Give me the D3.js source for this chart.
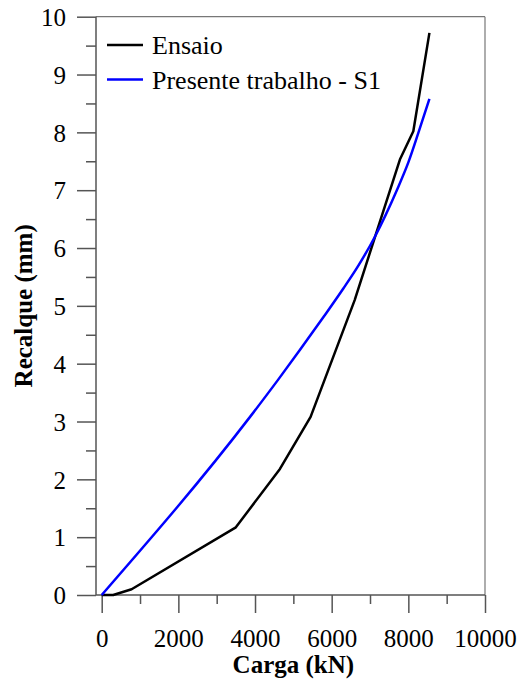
<!DOCTYPE html>
<html lang="pt">
<head>
    <meta charset="UTF-8">
    <script src="https://d3js.org/d3.v7.min.js"></script>
    <title>Carga x Recalque</title>
    <style>
        body { margin: 0; background: #fff; }
    </style>
</head>
<body>
    <script>
        // dados
        const ensaioCarga   = [0, 300, 780, 3500, 4650, 5450, 6600, 7780, 8130, 8550];
        const ensaioRecalque = [0, 0, 0.1, 1.17, 2.18, 3.08, 5.1, 7.53, 8.02, 9.72];
        const s1Carga    = [0, 3870, 4600, 5174, 5800, 6304, 6700, 7131, 7400, 7700, 8000, 8261, 8550];
        const s1Recalque = [0, 3.08, 3.72, 4.24, 4.82, 5.3, 5.7, 6.2, 6.56, 7.0, 7.48, 7.99, 8.58];
        const xTicks = [0, 2000, 4000, 6000, 8000, 10000];
        const yTicks = [0, 1, 2, 3, 4, 5, 6, 7, 8, 9, 10];
        const legendLabels = ['Ensaio', 'Presente trabalho - S1'];
        const seriesColors = ['#000', '#0000ff'];

        const width = 519, height = 682;
        const axisX = 96, axisY = 595, plotTop = 16.7, plotRight = 485;
        const serif = '"Liberation Serif", Tinos, "Times New Roman", Times, "Nimbus Roman", "Noto Serif", FreeSerif, "DejaVu Serif", serif';

        const x = d3.scaleLinear().domain([0, 10000]).range([101.7, plotRight]);
        const y = d3.scaleLinear().domain([0, 10]).range([axisY, plotTop]);

        const svg = d3.select('body').append('svg')
            .attr('width', width)
            .attr('height', height)
            .style('font-family', serif);

        const axisColor = '#555';

        // eixo y
        const yAxis = svg.append('g')
            .attr('transform', `translate(${axisX},0)`)
            .call(d3.axisLeft(y).tickValues(yTicks).tickSize(19).tickPadding(11).tickFormat(d3.format('d')));
        const yMinor = svg.append('g')
            .attr('transform', `translate(${axisX},0)`)
            .call(d3.axisLeft(y).tickValues(d3.range(0.5, 10, 1)).tickSize(10).tickFormat(''));

        // eixo x
        const xAxis = svg.append('g')
            .attr('transform', `translate(0,${axisY})`)
            .call(d3.axisBottom(x).tickValues(xTicks).tickSize(18).tickPadding(0).tickFormat(d3.format('d')));
        const xMinor = svg.append('g')
            .attr('transform', `translate(0,${axisY})`)
            .call(d3.axisBottom(x).tickValues(d3.range(1000, 10000, 2000)).tickSize(9).tickFormat(''));

        [yAxis, yMinor, xAxis, xMinor].forEach(g => {
            g.attr('font-family', serif).attr('font-size', 25);
            g.select('.domain').remove();
            g.selectAll('line').attr('stroke', axisColor).attr('stroke-width', 1.5);
            g.selectAll('text').attr('fill', '#000');
        });
        yAxis.selectAll('text').attr('dy', '0.35em');
        xAxis.selectAll('text').attr('dy', 0).attr('y', 52);

        // moldura
        svg.append('line').attr('x1', axisX).attr('x2', plotRight).attr('y1', plotTop).attr('y2', plotTop)
            .attr('stroke', '#777').attr('stroke-width', 1.2);
        svg.append('line').attr('x1', plotRight).attr('x2', plotRight).attr('y1', plotTop).attr('y2', axisY)
            .attr('stroke', '#777').attr('stroke-width', 1.2);
        svg.append('line').attr('x1', axisX).attr('x2', axisX).attr('y1', plotTop).attr('y2', axisY)
            .attr('stroke', axisColor).attr('stroke-width', 1.5);
        svg.append('line').attr('x1', axisX).attr('x2', plotRight).attr('y1', axisY).attr('y2', axisY)
            .attr('stroke', axisColor).attr('stroke-width', 1.5);

        // curvas
        const ensaio = ensaioCarga.map((c, i) => [c, ensaioRecalque[i]]);
        const s1 = s1Carga.map((c, i) => [c, s1Recalque[i]]);

        svg.append('path')
            .datum(ensaio)
            .attr('fill', 'none')
            .attr('stroke', seriesColors[0])
            .attr('stroke-width', 2.5)
            .attr('stroke-linejoin', 'round')
            .attr('d', d3.line().x(d => x(d[0])).y(d => y(d[1])));

        svg.append('path')
            .datum(s1)
            .attr('fill', 'none')
            .attr('stroke', seriesColors[1])
            .attr('stroke-width', 2.5)
            .attr('d', d3.line().x(d => x(d[0])).y(d => y(d[1])).curve(d3.curveMonotoneX));

        // legenda
        const legend = svg.append('g');
        legendLabels.forEach((label, i) => {
            const ly = 45 + i * 34.5;
            legend.append('line')
                .attr('x1', 107).attr('x2', 143)
                .attr('y1', ly).attr('y2', ly)
                .attr('stroke', seriesColors[i])
                .attr('stroke-width', 2.5);
            legend.append('text')
                .attr('x', 152)
                .attr('y', ly + 9)
                .attr('font-size', 26)
                .text(label);
        });

        // títulos dos eixos
        svg.append('text')
            .attr('x', (101.7 + plotRight) / 2)
            .attr('y', 673)
            .attr('text-anchor', 'middle')
            .attr('font-size', 25)
            .attr('font-weight', 'bold')
            .text('Carga (kN)');

        svg.append('text')
            .attr('transform', `translate(32,${(plotTop + axisY) / 2}) rotate(-90)`)
            .attr('text-anchor', 'middle')
            .attr('font-size', 25)
            .attr('font-weight', 'bold')
            .text('Recalque (mm)');
    </script>
</body>
</html>
